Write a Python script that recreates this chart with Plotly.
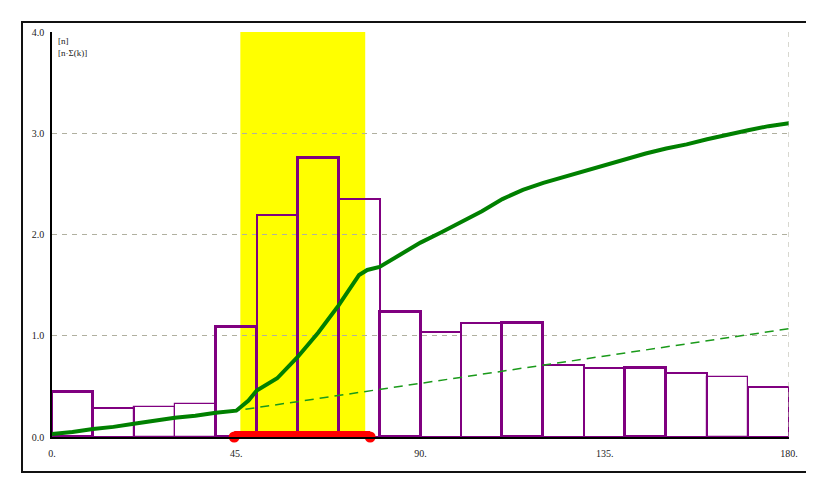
import plotly.graph_objects as go

# ---- data ----
bin_centers = [5, 15, 25, 35, 45, 55, 65, 75, 85, 95, 105, 115, 125, 135, 145, 155, 165, 175]
bin_heights = [0.44, 0.29, 0.30, 0.33, 1.09, 2.19, 2.76, 2.35, 1.23, 1.04, 1.13, 1.13, 0.71, 0.68, 0.68, 0.63, 0.59, 0.49]
bin_edge_w = [3, 2, 1.2, 1.2, 3, 2, 3, 2, 3, 2, 2, 3, 2, 2, 3, 2, 1.2, 2]

cum_x = [0, 5, 10, 15, 20, 25, 30, 35, 40, 45, 48, 50, 55, 60, 65, 70, 75, 77, 80, 85, 90, 95, 100,
         105, 110, 115, 120, 125, 130, 135, 140, 145, 150, 155, 160, 165, 170, 175, 180]
cum_y = [0.03, 0.05, 0.08, 0.10, 0.13, 0.16, 0.19, 0.21, 0.24, 0.26, 0.36, 0.46, 0.58, 0.79, 1.03, 1.30, 1.60, 1.65, 1.68, 1.80, 1.92, 2.02, 2.12,
         2.23, 2.35, 2.44, 2.51, 2.57, 2.62, 2.68, 2.74, 2.80, 2.85, 2.89, 2.94, 2.99, 3.03, 3.07, 3.10]

ref_x = [0, 45, 90, 135, 180]
ref_y = [0.03, 0.26, 0.53, 0.80, 1.07]

band_range = [46, 76.5]
red_range = [44.5, 77.7]

x_ticks = [0, 45, 90, 135, 180]
x_labels = ["0.", "45.", "90.", "135.", "180."]
y_ticks = [0, 1, 2, 3, 4]
y_labels = ["0.0", "1.0", "2.0", "3.0", "4.0"]
label_lines = ["[n]", "[n·Σ(k)]"]

# ---- figure ----
fig = go.Figure()

fig.add_trace(go.Bar(
    x=bin_centers, y=bin_heights, width=10,
    marker=dict(color="rgba(0,0,0,0)", line=dict(color="#800080", width=bin_edge_w)),
    showlegend=False, hoverinfo="skip"))

fig.add_trace(go.Scatter(
    x=ref_x, y=ref_y, mode="lines",
    line=dict(color="#1a9a1a", width=1.5, dash="9px,6px"),
    showlegend=False, hoverinfo="skip"))

fig.add_trace(go.Scatter(
    x=cum_x, y=cum_y, mode="lines",
    line=dict(color="#008000", width=4),
    showlegend=False, hoverinfo="skip"))

fig.add_trace(go.Scatter(
    x=red_range, y=[0, 0], mode="lines+markers",
    line=dict(color="#ff0000", width=12),
    marker=dict(color="#ff0000", size=11, symbol="circle"),
    cliponaxis=False, showlegend=False, hoverinfo="skip"))

fig.add_shape(type="rect", xref="x", yref="y", x0=band_range[0], x1=band_range[1], y0=0, y1=4,
              fillcolor="#ffff00", line=dict(width=0), layer="below")
fig.add_shape(type="line", xref="x", yref="y", x0=180, x1=180, y0=0, y1=4,
              line=dict(color="#b0b0a0", width=1, dash="5px,5px"))
# outer frame
fig.add_shape(type="rect", xref="paper", yref="paper", x0=-0.0407, x1=1.0258, y0=-0.0864, y1=1.0247,
              line=dict(color="#111111", width=2), fillcolor="rgba(0,0,0,0)")

for i, t in enumerate(label_lines):
    fig.add_annotation(xref="paper", yref="paper", x=0.006, y=0.995 - i * 0.03, text=t,
                       showarrow=False, xanchor="left", yanchor="top",
                       font=dict(family="Liberation Serif", size=9, color="#222222"))

fig.update_layout(
    width=806, height=476,
    margin=dict(l=44, r=25, t=24, b=47),
    paper_bgcolor="white", plot_bgcolor="white",
    barmode="overlay", bargap=0,
    font=dict(family="Liberation Serif", size=10, color="#222222"),
    xaxis=dict(range=[0, 180], tickvals=x_ticks, ticktext=x_labels, showgrid=False,
               zeroline=False, showline=True, linecolor="#000000", linewidth=2,
               ticks="", ticklabelstandoff=6, fixedrange=True),
    yaxis=dict(range=[0, 4], tickvals=y_ticks, ticktext=y_labels, showgrid=True,
               gridcolor="#b0b0a0", griddash="5px,5px", gridwidth=1,
               zeroline=False, showline=True, linecolor="#000000", linewidth=1.5,
               ticks="", ticklabelstandoff=4, fixedrange=True),
)

fig.write_html("out.html")
